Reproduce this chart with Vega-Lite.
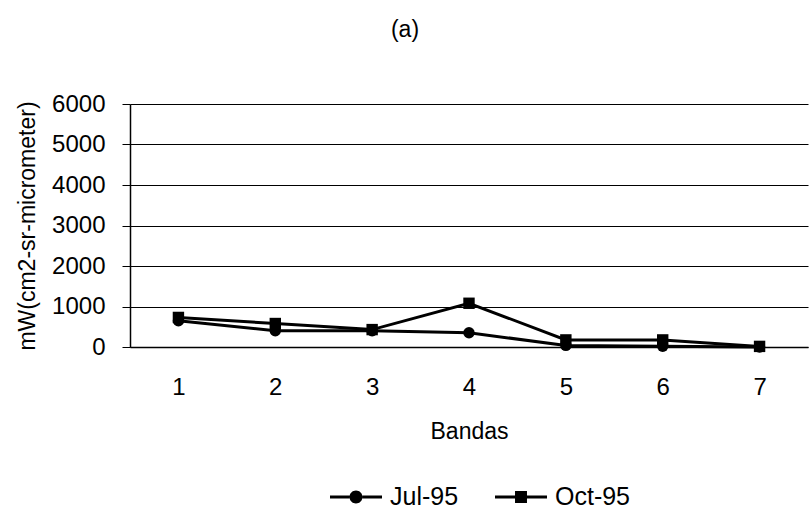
{
  "$schema": "https://vega.github.io/schema/vega-lite/v6.json",
  "autosize": "none",
  "padding": {"left": 130, "top": 104, "right": 2, "bottom": 162},
  "width": 678,
  "height": 243,
  "background": "white",
  "config": {
    "font": "Liberation Sans",
    "view": {"stroke": null},
    "axis": {"labelFont": "Liberation Sans", "titleFont": "Liberation Sans", "labelColor": "black", "titleColor": "black", "titleFontWeight": "normal"}
  },
  "title": {"text": "(a)", "fontSize": 23, "fontWeight": "normal", "color": "black", "anchor": "middle", "dx": -64, "offset": 50},
  "data": {
    "values": [
      {"banda": 1, "serie": "Jul-95", "valor": 650},
      {"banda": 2, "serie": "Jul-95", "valor": 400},
      {"banda": 3, "serie": "Jul-95", "valor": 400},
      {"banda": 4, "serie": "Jul-95", "valor": 350},
      {"banda": 5, "serie": "Jul-95", "valor": 40},
      {"banda": 6, "serie": "Jul-95", "valor": 20},
      {"banda": 7, "serie": "Jul-95", "valor": 0},
      {"banda": 1, "serie": "Oct-95", "valor": 730},
      {"banda": 2, "serie": "Oct-95", "valor": 580},
      {"banda": 3, "serie": "Oct-95", "valor": 430},
      {"banda": 4, "serie": "Oct-95", "valor": 1080},
      {"banda": 5, "serie": "Oct-95", "valor": 175},
      {"banda": 6, "serie": "Oct-95", "valor": 175},
      {"banda": 7, "serie": "Oct-95", "valor": 15}
    ]
  },
  "encoding": {
    "x": {
      "field": "banda", "type": "ordinal",
      "scale": {"type": "point", "padding": 0.5},
      "axis": {"title": "Bandas", "labelAngle": 0, "labelFontSize": 24, "titleFontSize": 23, "ticks": false, "labelPadding": 28, "titlePadding": 21, "domainColor": "black", "domainWidth": 1.5, "grid": false}
    },
    "y": {
      "field": "valor", "type": "quantitative",
      "scale": {"domain": [0, 6000], "nice": false},
      "axis": {"title": "mW(cm2-sr-micrometer)", "values": [0, 1000, 2000, 3000, 4000, 5000, 6000], "labelFontSize": 24, "titleFontSize": 23, "tickColor": "black", "tickSize": 8, "labelPadding": 17, "titlePadding": 12, "domainColor": "black", "domainWidth": 1.5, "gridColor": "black", "gridWidth": 1, "gridOpacity": 1, "format": "d"}
    }
  },
  "resolve": {"scale": {"shape": "independent"}},
  "layer": [
    {
      "mark": {"type": "line", "color": "black", "strokeWidth": 3},
      "encoding": {"detail": {"field": "serie"}}
    },
    {
      "mark": {"type": "point", "filled": true, "color": "black", "opacity": 1, "size": 130},
      "encoding": {
        "shape": {
          "field": "serie", "type": "nominal",
          "scale": {"domain": ["Jul-95", "Oct-95"], "range": ["circle", "square"]},
          "legend": null
        }
      }
    },
    {
      "transform": [{"filter": {"field": "banda", "equal": 0}}],
      "mark": {"type": "point", "filled": true, "color": "black", "opacity": 1},
      "encoding": {
        "shape": {
          "field": "serie", "type": "nominal",
          "scale": {"domain": ["Jul-95", "Oct-95"], "range": ["M-2,-0.11L-0.5,-0.11L-0.5,0.11L-2,0.11ZM0.5,-0.11L2,-0.11L2,0.11L0.5,0.11ZM0.5,0A0.5,0.5,0,1,1,-0.5,0A0.5,0.5,0,1,1,0.5,0Z", "M-2,-0.11L-0.46,-0.11L-0.46,0.11L-2,0.11ZM0.46,-0.11L2,-0.11L2,0.11L0.46,0.11ZM-0.46,-0.46L0.46,-0.46L0.46,0.46L-0.46,0.46Z"]},
          "legend": {
            "title": null, "orient": "none", "direction": "horizontal",
            "legendX": 212, "legendY": 379,
            "labelFontSize": 25, "labelColor": "black", "labelFont": "Liberation Sans",
            "symbolSize": 676, "symbolFillColor": "black", "symbolOpacity": 1,
            "labelOffset": 20, "columnPadding": 33
          }
        }
      }
    }
  ]
}
